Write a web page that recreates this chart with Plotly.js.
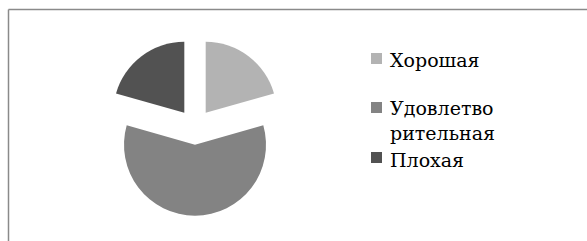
<!DOCTYPE html>
<html>
<head>
<meta charset="utf-8">
<script src="https://cdn.plot.ly/plotly-3.0.1.min.js"></script>
<style>
  html, body { margin: 0; padding: 0; background: #ffffff; }
  #chart { width: 587px; height: 241px; }
</style>
</head>
<body>
<div id="chart"></div>
<script>
// Data
const categories = ["Хорошая", "Удовлетворительная", "Плохая"];
const legendLabels = ["Хорошая", "Удовлетво<br>рительная", "Плохая"];
const values = [7, 20, 7];
const sliceColors = ["#b3b3b3", "#838383", "#525252"];

const W = 587, H = 241;
const px = x => x / W;
const py = y => 1 - y / H;

const trace = {
  type: "pie",
  labels: categories,
  values: values,
  sort: false,
  direction: "clockwise",
  rotation: 0,
  pull: categories.map(() => 0.25),
  marker: { colors: sliceColors, line: { width: 0 } },
  textinfo: "none",
  hoverinfo: "label+value+percent",
  showlegend: false,
  domain: { x: [px(95), px(295)], y: [py(215.75), py(38.25)] }
};

// Legend built from the data arrays
const rowCenters = [60, 120, 160];
const markerCenters = [58.5, 107.5, 157.5];
const serif = "DejaVu Serif";
const annotations = legendLabels.map((t, i) => ({
  xref: "paper", yref: "paper",
  x: px(388), y: py(rowCenters[i]),
  xanchor: "left", yanchor: "middle",
  align: "left",
  text: t,
  showarrow: false,
  font: { family: serif, size: 19, color: "#000000" }
}));

const shapes = sliceColors.map((c, i) => ({
  type: "rect", xref: "paper", yref: "paper",
  x0: px(371), x1: px(382),
  y0: py(markerCenters[i] + 5.5), y1: py(markerCenters[i] - 5.5),
  fillcolor: c, line: { width: 0 }
}));
// chart-area border (top and left visible)
shapes.push({ type: "line", xref: "paper", yref: "paper",
  x0: px(8.5), x1: 1.05, y0: py(9.5), y1: py(9.5),
  line: { color: "#8a8a8a", width: 1.5 } });
shapes.push({ type: "line", xref: "paper", yref: "paper",
  x0: px(8.5), x1: px(8.5), y0: py(9.5), y1: -0.05,
  line: { color: "#8a8a8a", width: 1.5 } });

const layout = {
  width: W, height: H,
  margin: { l: 0, r: 0, t: 0, b: 0 },
  paper_bgcolor: "#ffffff",
  showlegend: false,
  font: { family: serif },
  annotations: annotations,
  shapes: shapes
};

Plotly.newPlot("chart", [trace], layout, { displayModeBar: false, staticPlot: true });
</script>
</body>
</html>
